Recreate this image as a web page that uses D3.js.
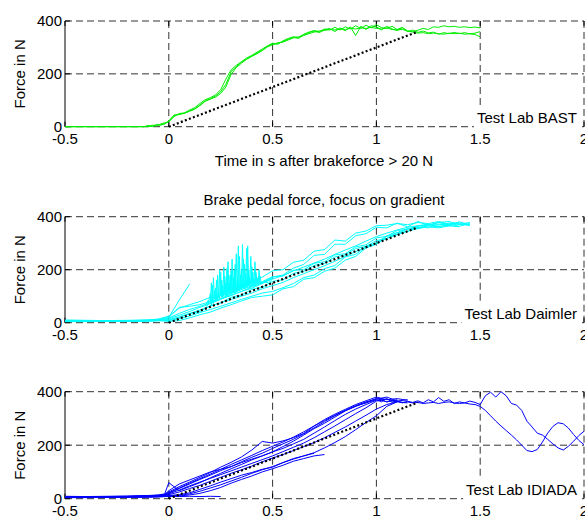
<!DOCTYPE html>
<html><head><meta charset="utf-8">
<script src="https://cdn.jsdelivr.net/npm/d3@7"></script>
<style>
html,body{margin:0;padding:0;background:#fff;}
svg text{font-family:"Liberation Sans",Arial,Helvetica,sans-serif;font-size:15px;fill:#000;}
</style></head>
<body><svg id="chart" width="585" height="518"></svg>
<script>
// ---------- shared axis data ----------
const xTicks = [-0.5, 0, 0.5, 1, 1.5, 2];
const xTickLabels = ["-0.5", "0", "0.5", "1", "1.5", "2"];
const yTicks = [0, 200, 400];
const yTickLabels = ["0", "200", "400"];
const xLabel = "Time in s after brakeforce > 20 N";
const yLabel = "Force in N";
const title2 = "Brake pedal force, focus on gradient";
const labLabels = ["Test Lab BAST", "Test Lab Daimler", "Test Lab IDIADA"];
const labColors = ["#00ee00", "#00ffff", "#0000ff"];

// reference gradient line (dotted)
const refTimes = [0, 1.2];
const refValues = [0, 360];

// ---------- BAST (green) ----------
const bastTimes = [-0.5,-0.2,-0.12,-0.1,-0.08,-0.06,-0.04,-0.02,
 0,0.025,0.05,0.075,0.1,0.125,0.15,0.175,0.2,0.225,0.25,0.275,0.3,0.325,0.35,0.375,0.4,0.425,0.45,0.475,
 0.5,0.525,0.55,0.575,0.6,0.625,0.65,0.675,0.7,0.725,0.75,0.775,0.8,0.825,0.85,0.875,0.9,0.925,0.95,0.975,
 1.0,1.025,1.05,1.075,1.1,1.125,1.15,1.175,1.2,1.225,1.25,1.275,1.3,1.325,1.35,1.375,1.4,1.425,1.45,1.475,1.5];
const bast1 = [0,0,0,4,2,8,5,12,
 20,42,47,50,60,68,82,98,106,116,132,160,208,228,244,256,268,279,290,304,
 313,314,322,331,338,334,347,356,362,356,367,372,360,374,363,378,345,380,368,382,
 378,366,380,370,364,374,360,366,357,362,355,358,350,356,352,357,352,356,351,349,340];
const bast2 = [0,0,0,0,6,3,10,15,
 18,38,50,52,63,72,88,102,110,120,140,180,215,232,246,260,270,282,294,306,
 316,312,325,334,340,338,350,358,364,360,370,366,376,366,378,370,382,372,384,374,
 386,375,372,380,368,376,362,360,365,372,368,378,376,382,378,380,376,378,375,377,374];
const bast3 = [0,0,0,3,0,6,8,10,
 22,44,46,52,58,66,80,96,104,112,126,150,198,224,240,255,266,276,288,302,
 310,318,320,328,336,340,345,352,358,362,364,368,366,370,368,372,370,374,372,376,
 372,370,374,368,366,368,362,358,354,356,352,354,352,350,354,352,354,350,352,354,360];

// ---------- Daimler (cyan) ----------
const daimlerTimes = [-0.5,-0.4,-0.3,-0.2,-0.1,-0.05,
 0,0.05,0.1,0.15,0.2,0.25,0.3,0.35,0.4,0.45,0.5,0.55,0.6,0.65,0.7,0.75,0.8,0.85,0.9,0.95,
 1.0,1.05,1.1,1.15,1.2,1.25,1.3,1.35,1.4,1.45,1.5];
const daimler1 = [8,7,6,6,8,10, 12,20,34,42,64,74,96,104,126,134,156,162,186,194,216,224,248,256,280,288,310,318,340,344,362,358,372,366,374,366,null];
const daimler2 = [6,6,7,8,10,14, 25,55,68,80,96,110,128,140,158,172,196,200,228,236,270,276,312,308,338,346,366,368,374,370,378,374,382,372,380,null,null];
const daimler3 = [5,5,6,5,6,8, 5,8,18,30,40,55,68,82,95,100,105,128,136,164,170,194,206,236,250,282,296,326,334,354,356,366,362,368,null,null,null];
const daimler4 = [10,9,8,8,9,12, 18,35,50,62,75,90,102,118,130,148,165,178,195,210,225,240,258,274,290,308,325,338,350,360,366,372,368,376,372,378,null];
const daimler5 = [7,6,6,7,8,11, 15,28,42,58,72,88,105,118,135,150,172,180,206,220,254,258,296,296,328,336,360,358,376,362,382,368,378,382,370,372,null];
const daimler6 = [4,4,5,5,6,7, 10,22,35,48,62,75,88,100,112,128,140,152,170,185,200,215,232,250,268,285,300,318,332,345,355,362,358,365,362,null,null];
const daimler7 = [9,8,8,9,10,12, 20,85,145,null,null,null,null,null,null,null,null,null,null,null,null,null,null,null,null,null,null,null,null,null,null,null,null,null,null,null,null];
const daimler8 = [6,7,6,7,9,12, 20,58,62,68,80,90,110,125,138,155,174,176,198,200,224,230,256,260,286,294,320,326,348,352,366,368,378,368,380,370,null];
const daimler9 = [5,6,5,6,7,9, 8,15,25,38,50,62,75,88,100,112,118,132,148,170,180,204,216,248,258,286,302,328,340,356,358,370,362,372,364,374,null];
const daimlerSpikeTimes = [0.18,0.19,0.2,0.205,0.21,0.215,0.22,0.225,0.23,0.235,0.24,0.245,0.25,0.255,0.26,0.265,0.27,0.275,0.28,0.285,
 0.29,0.295,0.3,0.305,0.31,0.315,0.32,0.325,0.33,0.335,0.34,0.345,0.35,0.355,0.36,0.365,0.37,0.375,0.38,0.385,
 0.39,0.395,0.4,0.405,0.41,0.415,0.42,0.425,0.43,0.435,0.44,0.445,0.45,0.46,0.48,0.5];
const daimlerSpike1 = [70,85,75,150,80,170,90,130,85,180,95,200,100,160,95,210,105,150,100,230,
 110,180,108,240,115,200,112,260,118,290,120,180,125,295,128,220,130,280,132,200,
 135,250,138,190,140,230,142,170,145,200,146,150,148,155,160,170];
const daimlerSpike2 = [60,70,110,65,140,72,120,80,160,85,110,90,190,95,140,100,175,98,205,104,
 150,108,195,112,170,115,220,120,160,124,250,126,200,130,240,132,185,136,290,138,
 170,140,210,142,160,145,190,148,150,150,175,152,150,155,150,165];

// ---------- IDIADA (blue) ----------
const idiadaTimes = [-0.5,-0.4,-0.3,-0.2,-0.1,-0.05,-0.02,
 0,0.05,0.1,0.15,0.2,0.25,0.3,0.35,0.4,0.45,0.5,0.55,0.6,0.65,0.7,0.75,0.8,0.85,0.9,0.95,
 1.0,1.05,1.1,1.15];
const idiada1 = [8,7,6,8,10,12,15, 25,45,62,80,98,118,136,156,182,214,208,216,228,244,272,296,316,334,352,366,380,370,374,368];
const idiada2 = [6,6,7,7,9,11,14, 20,38,55,72,88,105,120,138,155,170,188,205,222,242,265,288,310,330,348,362,372,380,365,370];
const idiada3 = [6,5,6,6,8,10,12, 18,32,48,62,76,90,104,118,132,146,160,176,192,208,228,250,272,295,318,340,365,null,null,null];
const idiada4 = [7,7,8,8,10,12,16, 22,40,58,75,92,110,128,145,162,180,196,212,230,250,272,292,312,330,346,358,370,null,null,null];
const idiada5 = [7,6,7,8,9,12,14, 15,25,38,50,65,80,95,108,122,138,152,165,180,195,210,228,248,268,290,312,335,352,362,null];
const idiada6 = [6,5,6,7,8,10,12, 10,12,18,28,40,52,66,80,95,108,120,135,148,160,172,190,210,232,258,285,310,345,362,358];
const idiada7 = [5,5,5,6,7,8,10, 12,15,22,35,48,62,75,88,98,110,118,135,150,160,170,null,null,null,null,null,null,null,null,null];
const idiada8 = [4,4,5,5,6,7,8, 8,10,14,20,30,42,58,72,85,100,112,125,140,150,160,165,null,null,null,null,null,null,null,null];
const idiada9 = [5,6,5,6,6,7,8, 10,8,9,8,9,8,null,null,null,null,null,null,null,null,null,null,null,null,null,null,null,null,null,null];
const idiada10 = [9,8,8,9,11,13,16, 30,55,70,85,100,110,120,135,148,160,175,195,215,238,262,282,305,328,345,360,375,362,370,null];
const idiada11 = [8,8,9,10,12,14,18, 60,30,45,60,78,95,112,128,145,160,175,188,205,222,245,268,292,315,335,352,368,372,362,null];
const idiadaTailTimes = [1.0,1.025,1.05,1.075,1.1,1.125,1.15,1.175,1.2,1.225,1.25,1.275,1.3,1.325,1.35,1.375,1.4,1.425,1.45,1.475,
 1.5,1.525,1.55,1.575,1.6,1.625,1.65,1.675,1.7,1.725,1.75,1.775,1.8,1.825,1.85,1.875,1.9,1.925,1.95,1.975,2.0];
const idiadaTailA = [370,362,375,360,366,358,364,360,366,358,370,362,378,364,370,356,362,358,365,360,
 352,385,398,380,400,385,356,350,330,290,268,245,238,222,205,190,182,196,215,236,252];
const idiadaTailB = [365,368,362,366,364,360,362,358,360,356,358,360,356,360,362,358,356,358,354,352,
 345,330,310,290,272,255,238,220,200,180,176,184,212,245,270,284,280,264,240,218,202];

// ---------- layout ----------
const svg = d3.select("#chart");
const x = d3.scaleLinear().domain([-0.5, 2]).range([65, 584]);
const panels = [
  {top: 21, bottom: 126.7, traces: [
    {t: bastTimes, v: bast1}, {t: bastTimes, v: bast2}, {t: bastTimes, v: bast3}]},
  {top: 216.7, bottom: 322.7, traces: [
    {t: daimlerTimes, v: daimler1}, {t: daimlerTimes, v: daimler2}, {t: daimlerTimes, v: daimler3},
    {t: daimlerTimes, v: daimler4}, {t: daimlerTimes, v: daimler5}, {t: daimlerTimes, v: daimler6},
    {t: daimlerTimes, v: daimler7}, {t: daimlerTimes, v: daimler8}, {t: daimlerTimes, v: daimler9},
    {t: daimlerSpikeTimes, v: daimlerSpike1}, {t: daimlerSpikeTimes, v: daimlerSpike2}]},
  {top: 391.7, bottom: 498.7, traces: [
    {t: idiadaTimes, v: idiada1}, {t: idiadaTimes, v: idiada2}, {t: idiadaTimes, v: idiada3},
    {t: idiadaTimes, v: idiada4}, {t: idiadaTimes, v: idiada5}, {t: idiadaTimes, v: idiada6},
    {t: idiadaTimes, v: idiada7}, {t: idiadaTimes, v: idiada8}, {t: idiadaTimes, v: idiada9},
    {t: idiadaTimes, v: idiada10}, {t: idiadaTimes, v: idiada11},
    {t: idiadaTailTimes, v: idiadaTailA}, {t: idiadaTailTimes, v: idiadaTailB}]}
];

const defs = svg.append("defs");
const [xl, xr] = x.range();

panels.forEach((p, i) => {
  const y = d3.scaleLinear().domain([0, 400]).range([p.bottom, p.top]);
  const g = svg.append("g");
  defs.append("clipPath").attr("id", "clip" + i).append("rect")
    .attr("x", xl).attr("y", p.top - 1).attr("width", xr - xl + 2).attr("height", p.bottom - p.top + 2);

  // dashed grid (incl. top, bottom and right box edges)
  g.append("g").selectAll("line").data(xTicks.filter(d => d > -0.5)).join("line")
    .attr("x1", d => x(d)).attr("x2", d => x(d)).attr("y1", p.top).attr("y2", p.bottom)
    .attr("stroke", "#333").attr("stroke-width", 1).attr("stroke-dasharray", "7,4");
  g.append("g").selectAll("line").data(yTicks).join("line")
    .attr("x1", xl).attr("x2", xr).attr("y1", d => y(d)).attr("y2", d => y(d))
    .attr("stroke", "#333").attr("stroke-width", 1).attr("stroke-dasharray", "7,4");

  // left axis (solid) and inward ticks
  g.append("line").attr("x1", xl).attr("x2", xl).attr("y1", p.top).attr("y2", p.bottom)
    .attr("stroke", "#000").attr("stroke-width", 1);
  g.append("g").selectAll("line").data(yTicks).join("line")
    .attr("x1", xl).attr("x2", xl + 5).attr("y1", d => y(d)).attr("y2", d => y(d))
    .attr("stroke", "#000");
  g.append("g").selectAll("line").data(xTicks).join("line")
    .attr("x1", d => x(d)).attr("x2", d => x(d)).attr("y1", p.bottom).attr("y2", p.bottom - 5)
    .attr("stroke", "#000");
  g.append("g").selectAll("line").data(xTicks).join("line")
    .attr("x1", d => x(d)).attr("x2", d => x(d)).attr("y1", p.top).attr("y2", p.top + 5)
    .attr("stroke", "#000");

  // tick labels
  g.append("g").selectAll("text").data(yTicks).join("text")
    .attr("x", xl - 3).attr("y", d => y(d)).attr("dy", "0.36em").attr("text-anchor", "end")
    .text((d, k) => yTickLabels[k]);
  g.append("g").selectAll("text").data(xTicks).join("text")
    .attr("x", d => x(d)).attr("y", p.bottom + 17.5).attr("text-anchor", "middle")
    .text((d, k) => xTickLabels[k]);

  // y label
  g.append("text").attr("transform", `translate(25,${(p.top + p.bottom) / 2}) rotate(-90)`)
    .attr("text-anchor", "middle").text(yLabel);

  // data traces
  const line = d3.line().defined(d => d[1] != null).x(d => x(d[0])).y(d => y(d[1]));
  const dg = g.append("g").attr("clip-path", `url(#clip${i})`);
  p.traces.forEach(tr => {
    const pts = tr.t.map((t, k) => [t, tr.v[k]]);
    dg.append("path").attr("d", line(pts)).attr("fill", "none")
      .attr("stroke", labColors[i]).attr("stroke-width", 1).attr("stroke-linejoin", "round");
  });
  // dotted gradient line
  dg.append("path").attr("d", line(refTimes.map((t, k) => [t, refValues[k]])))
    .attr("fill", "none").attr("stroke", "#000").attr("stroke-width", 2.2)
    .attr("stroke-dasharray", "2,2.3");

  // lab label with white background
  const lt = g.append("text").attr("x", 577).attr("y", p.bottom - 3.5)
    .attr("text-anchor", "end").text(labLabels[i]);
  const bb = lt.node().getBBox();
  g.insert("rect", () => lt.node())
    .attr("x", bb.x - 3).attr("y", bb.y - 2).attr("width", bb.width + 6).attr("height", bb.height + 5)
    .attr("fill", "#fff");
});

// axis label and title
svg.append("text").attr("x", 324).attr("y", 166).attr("text-anchor", "middle").text(xLabel);
svg.append("text").attr("x", 324).attr("y", 205).attr("text-anchor", "middle").text(title2);
</script>
</body></html>
